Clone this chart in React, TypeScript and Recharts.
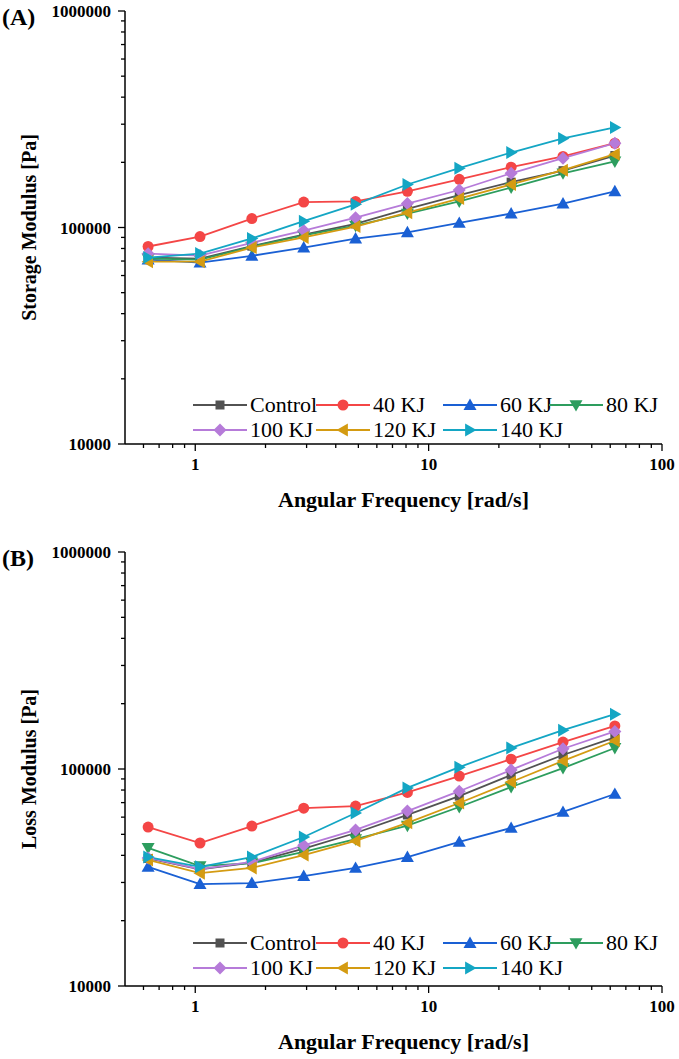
import React from 'react';
import { LineChart, Line, XAxis, YAxis, Legend } from 'recharts';

// angular frequency, rad/s
const frequency = [0.628, 1.048, 1.748, 2.916, 4.864, 8.11, 13.53, 22.57, 37.65, 62.8];

// (A) storage modulus, Pa
const storageControl = [72600, 71800, 82000, 92800, 104000, 122000, 141000, 162000, 183000, 215000];
const storage40 = [81700, 90800, 110000, 131000, 132000, 147000, 167000, 190000, 213000, 245000];
const storage60 = [71000, 68800, 74000, 80800, 88900, 95000, 105000, 116000, 129000, 147000];
const storage80 = [71800, 71000, 81500, 92000, 102000, 116000, 132000, 153000, 178000, 202000];
const storage100 = [75700, 74200, 85000, 96800, 111000, 129000, 149000, 178000, 209000, 245000];
const storage120 = [69500, 69500, 80800, 90000, 101000, 117000, 136000, 158000, 184000, 218000];
const storage140 = [72600, 75800, 89000, 107000, 128000, 158000, 188000, 222000, 258000, 290000];

// (B) loss modulus, Pa
const lossControl = [38700, 34500, 37000, 43000, 50700, 61400, 75000, 93800, 116000, 140000];
const loss40 = [54000, 45600, 54600, 66000, 67500, 78000, 92800, 111000, 133000, 158000];
const loss60 = [35400, 29500, 29800, 32100, 35000, 39300, 46100, 53500, 63400, 76700];
const loss80 = [43300, 35700, 36800, 41500, 47500, 54800, 66800, 82600, 101000, 125000];
const loss100 = [38900, 34600, 37300, 44500, 52400, 64000, 79000, 99000, 124000, 149000];
const loss120 = [38100, 33100, 35000, 40100, 46600, 56500, 69700, 87100, 109000, 135000];
const loss140 = [39300, 35400, 39300, 48600, 62700, 81800, 102000, 125000, 151000, 179000];

const seriesNames = ['Control', '40 KJ', '60 KJ', '80 KJ', '100 KJ', '120 KJ', '140 KJ'];
const seriesColors = ['#525252', '#f44646', '#1a60d4', '#2d9d5e', '#b67bd9', '#d49b12', '#14a6c4'];
const seriesShapes = ['square', 'circle', 'up', 'down', 'diamond', 'left', 'right'];

const xMajorTicks = [1, 10, 100];
const xTicks = [0.6, 0.7, 0.8, 0.9, 1, 2, 3, 4, 5, 6, 7, 8, 9, 10, 20, 30, 40, 50, 60, 70, 80, 90, 100];
const yMajorTicks = [10000, 100000, 1000000];
const yTicks = [
  10000, 20000, 30000, 40000, 50000, 60000, 70000, 80000, 90000,
  100000, 200000, 300000, 400000, 500000, 600000, 700000, 800000, 900000, 1000000,
];

const storageSeries = [storageControl, storage40, storage60, storage80, storage100, storage120, storage140];
const lossSeries = [lossControl, loss40, loss60, loss80, loss100, loss120, loss140];

const buildRows = (series: number[][]) =>
  frequency.map((f, i) => {
    const row: Record<string, number> = { freq: f };
    series.forEach((s, k) => (row['s' + k] = s[i]));
    return row;
  });

const storageData = buildRows(storageSeries);
const lossData = buildRows(lossSeries);

const FONT = '"Liberation Serif", "Times New Roman", serif';
const W = 679;

function Marker({ shape, cx, cy, color }: { shape: string; cx: number; cy: number; color: string }) {
  const s = 6.5;
  switch (shape) {
    case 'square':
      return <rect x={cx - 4.5} y={cy - 4.5} width={9} height={9} fill={color} />;
    case 'circle':
      return <circle cx={cx} cy={cy} r={5.5} fill={color} />;
    case 'up':
      return <polygon points={`${cx},${cy - s} ${cx + s},${cy + s * 0.75} ${cx - s},${cy + s * 0.75}`} fill={color} />;
    case 'down':
      return <polygon points={`${cx},${cy + s} ${cx + s},${cy - s * 0.75} ${cx - s},${cy - s * 0.75}`} fill={color} />;
    case 'diamond':
      return <polygon points={`${cx},${cy - s} ${cx + s},${cy} ${cx},${cy + s} ${cx - s},${cy}`} fill={color} />;
    case 'left':
      return <polygon points={`${cx - s},${cy} ${cx + s * 0.75},${cy - s} ${cx + s * 0.75},${cy + s}`} fill={color} />;
    default:
      return <polygon points={`${cx + s},${cy} ${cx - s * 0.75},${cy - s} ${cx - s * 0.75},${cy + s}`} fill={color} />;
  }
}

const XTick = (props: any) => {
  const { x, y, payload } = props;
  const major = xMajorTicks.includes(payload.value);
  return (
    <g>
      <line x1={x} x2={x} y1={y} y2={y + (major ? 7 : 4)} stroke="#000" strokeWidth={1.3} />
      {major && (
        <text x={x} y={y + 26} textAnchor="middle" fontFamily={FONT} fontWeight="bold" fontSize={17} fill="#000">
          {payload.value}
        </text>
      )}
    </g>
  );
};

const YTick = (props: any) => {
  const { x, y, payload } = props;
  const major = yMajorTicks.includes(payload.value);
  return (
    <g>
      <line x1={x} x2={x - (major ? 7 : 4)} y1={y} y2={y} stroke="#000" strokeWidth={1.3} />
      {major && (
        <text x={x - 14} y={y + 6} textAnchor="end" fontFamily={FONT} fontWeight="bold" fontSize={17} fill="#000">
          {payload.value}
        </text>
      )}
    </g>
  );
};

const legendCols = [193, 316, 443, 549];

const renderLegend = () => (
  <div style={{ position: 'relative', width: W, height: 50, fontFamily: FONT, fontSize: 22, color: '#000' }}>
    {seriesNames.map((name, k) => {
      const row = k < 4 ? 0 : 1;
      const col = k < 4 ? k : k - 4;
      return (
        <div
          key={name}
          style={{
            position: 'absolute',
            left: legendCols[col],
            top: row * 25,
            height: 25,
            display: 'flex',
            alignItems: 'center',
            whiteSpace: 'nowrap',
          }}
        >
          <svg width={54} height={16}>
            <line x1={0} x2={54} y1={8} y2={8} stroke={seriesColors[k]} strokeWidth={1.8} />
            <Marker shape={seriesShapes[k]} cx={27} cy={8} color={seriesColors[k]} />
          </svg>
          <span style={{ marginLeft: 3, lineHeight: '25px' }}>{name}</span>
        </div>
      );
    })}
  </div>
);

function ModulusChart({
  data,
  height,
  top,
  bottom,
  tag,
  yTitle,
  legendTop,
}: {
  data: Record<string, number>[];
  height: number;
  top: number;
  bottom: number;
  tag: string;
  yTitle: string;
  legendTop: number;
}) {
  const plotBottom = height - bottom;
  const midY = (top + plotBottom) / 2;
  return (
    <LineChart width={W} height={height} data={data} margin={{ top, right: 17, left: 0, bottom: 0 }}>
      <XAxis
        dataKey="freq"
        type="number"
        scale="log"
        domain={[0.5, 100]}
        allowDataOverflow
        ticks={xTicks}
        interval={0}
        tick={XTick}
        tickLine={false}
        tickSize={0}
        tickMargin={0}
        height={bottom}
        axisLine={{ stroke: '#000', strokeWidth: 1.5 }}
        label={() => (
          <text
            x={(125 + 662) / 2 + 10}
            y={plotBottom + 63}
            textAnchor="middle"
            fontFamily={FONT}
            fontWeight="bold"
            fontSize={22}
            fill="#000"
          >
            Angular Frequency [rad/s]
          </text>
        )}
      />
      <XAxis
        xAxisId="top"
        dataKey="freq"
        orientation="top"
        type="number"
        scale="log"
        domain={[0.5, 100]}
        allowDataOverflow
        height={0}
        tick={false}
        tickLine={false}
        axisLine={{ stroke: '#000', strokeWidth: 1.5 }}
      />
      <YAxis
        type="number"
        scale="log"
        domain={[10000, 1000000]}
        allowDataOverflow
        ticks={yTicks}
        interval={0}
        tick={YTick}
        tickLine={false}
        tickSize={0}
        tickMargin={0}
        width={125}
        axisLine={{ stroke: '#000', strokeWidth: 1.5 }}
        label={() => (
          <g>
            <text x={2} y={top + 14} fontFamily={FONT} fontWeight="bold" fontSize={24} fill="#000">
              {tag}
            </text>
            <text
              x={36}
              y={midY}
              transform={`rotate(-90 36 ${midY})`}
              textAnchor="middle"
              fontFamily={FONT}
              fontWeight="bold"
              fontSize={20}
              fill="#000"
            >
              {yTitle}
            </text>
          </g>
        )}
      />
      <YAxis
        yAxisId="right"
        orientation="right"
        type="number"
        scale="log"
        domain={[10000, 1000000]}
        allowDataOverflow
        width={0}
        tick={false}
        tickLine={false}
        axisLine={{ stroke: '#000', strokeWidth: 1.5 }}
      />
      <Legend
        layout="vertical"
        align="center"
        verticalAlign="middle"
        content={renderLegend}
        wrapperStyle={{ left: 0, top: legendTop, width: W, height: 50 }}
      />
      {seriesNames.map((name, k) => (
        <Line
          key={name}
          dataKey={'s' + k}
          name={name}
          stroke={seriesColors[k]}
          strokeWidth={1.8}
          isAnimationActive={false}
          dot={(p: any) => (
            <Marker key={`${name}-${p.index}`} shape={seriesShapes[k]} cx={p.cx} cy={p.cy} color={seriesColors[k]} />
          )}
          activeDot={false}
        />
      ))}
    </LineChart>
  );
}

export default function App() {
  return (
    <div style={{ position: 'absolute', left: 0, top: 0, width: W, height: 1059, background: '#fff' }}>
      <ModulusChart
        data={storageData}
        height={530}
        top={11}
        bottom={86}
        tag="(A)"
        yTitle="Storage Modulus [Pa]"
        legendTop={392}
      />
      <ModulusChart
        data={lossData}
        height={529}
        top={22}
        bottom={73}
        tag="(B)"
        yTitle="Loss Modulus [Pa]"
        legendTop={400}
      />
    </div>
  );
}
